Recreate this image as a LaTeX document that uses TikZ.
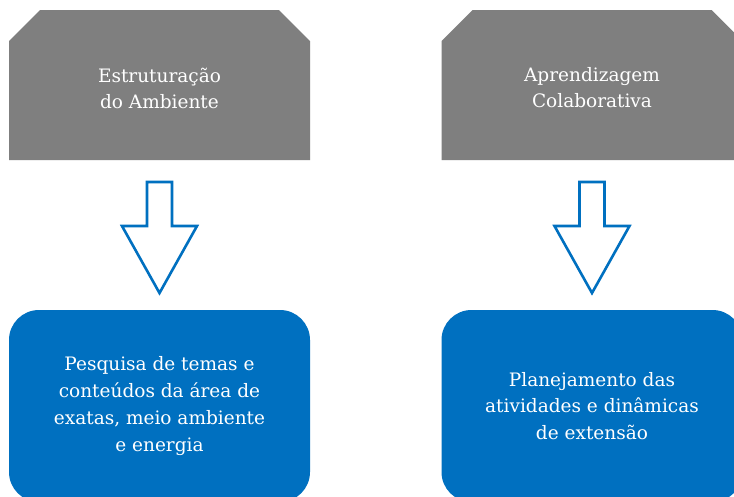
\documentclass[tikz,border=0pt]{standalone}
\usepackage{fontspec}
\setmainfont{DejaVu Serif}
\definecolor{boxgray}{RGB}{127,127,127}
\definecolor{boxblue}{RGB}{0,112,192}
\begin{document}
\begin{tikzpicture}[x=1pt,y=-1pt,
  graybox/.style={rectangle, draw=none, minimum width=301pt, minimum height=150pt, inner sep=0pt,
    text=white, align=center, font=\fontsize{18.5}{26}\selectfont},
  bluebox/.style={rectangle, rounded corners=30pt, fill=boxblue, draw=none,
    minimum width=301pt, minimum height=192pt, inner sep=0pt,
    text=white, align=center, font=\fontsize{18.5}{26.7}\selectfont},
  blockarrow/.style={draw=boxblue, line width=2.6pt, fill=white, line join=miter}
]
\useasboundingbox (0,0) rectangle (734,496);
\clip (0,0) rectangle (734,496);
\fill[white] (0,0) rectangle (734,496);
\foreach \n/\x in {1/159.5,2/592}{
  \coordinate (c\n) at (\x,85);
  \fill[boxgray] ([xshift=-150.5pt,yshift=-75pt]c\n) -- ([xshift=-150.5pt,yshift=44pt]c\n)
    -- ([xshift=-119.5pt,yshift=75pt]c\n) -- ([xshift=119.5pt,yshift=75pt]c\n)
    -- ([xshift=150.5pt,yshift=44pt]c\n) -- ([xshift=150.5pt,yshift=-75pt]c\n) -- cycle;
}
\node[graybox] (g1) at (159.5,88) {Estruturação\\do Ambiente};
\node[graybox] (g2) at (592,88) {Aprendizagem\\Colaborativa};
\node[bluebox] (b1) at (159.5,406) {Pesquisa de temas e\\conteúdos da área de\\exatas, meio ambiente\\e energia};
\node[bluebox] (b2) at (592,406) {Planejamento das\\atividades e dinâmicas\\de extensão};
\foreach \n in {1,2}{
  \coordinate (t\n) at ([yshift=-97pt]c\n);
  \draw[blockarrow] ([xshift=-12.5pt]t\n) -- ++(0,44) -- ++(-25,0) -- ++(37.5,67) -- ++(37.5,-67) -- ++(-25,0) -- ++(0,-44) -- cycle;
}
\end{tikzpicture}
\end{document}
